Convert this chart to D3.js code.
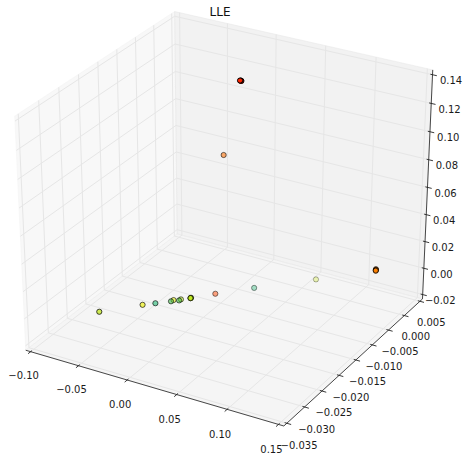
<!DOCTYPE html>
<html><head><meta charset="utf-8">
<script src="https://cdn.jsdelivr.net/npm/d3@7"></script>
<style>html,body{margin:0;padding:0;background:#fff}svg{display:block}</style>
</head><body><svg id="chart" width="469" height="456"></svg>
<script>
// ---------- data ----------
const title = "LLE";
const xLimits = [-0.10, 0.15];
const yLimits = [-0.035, 0.005];
const zLimits = [-0.02, 0.14];
const xTicks = [-0.10, -0.05, 0.00, 0.05, 0.10, 0.15];
const yTicks = [-0.035, -0.030, -0.025, -0.020, -0.015, -0.010, -0.005, 0.000, 0.005];
const zTicks = [-0.02, 0.00, 0.02, 0.04, 0.06, 0.08, 0.10, 0.12, 0.14];
const xTickLabels = ["−0.10", "−0.05", "0.00", "0.05", "0.10", "0.15"];
const yTickLabels = ["−0.035", "−0.030", "−0.025", "−0.020", "−0.015", "−0.010", "−0.005", "0.000", "0.005"];
const zTickLabels = ["−0.02", "0.00", "0.02", "0.04", "0.06", "0.08", "0.10", "0.12", "0.14"];

// embedded points (x, y, z) and their colour value
const xs = [-0.0553, -0.0290, -0.0207, -0.0106, -0.0098, -0.0052, -0.0048, 0.0014, 0.0017, 0.0012, 0.0015, 0.0163, 0.0408, 0.0809, 0.1475, 0.1472, 0.1477, 0.0096, 0.0099, 0.0093, -0.0076];
const ys = [-0.0288, -0.0240, -0.0227, -0.0211, -0.0206, -0.0203, -0.0199, -0.0189, -0.0190, -0.0187, -0.0189, -0.0160, -0.0117, -0.0050, -0.0072, -0.0071, -0.0073, -0.0070, -0.0069, -0.0071, -0.0070];
const zs = [0.0000, 0.0000, 0.0000, 0.0000, 0.0000, 0.0000, 0.0000, 0.0000, 0.0003, -0.0002, 0.0001, 0.0000, 0.0000, 0.0000, 0.0246, 0.0249, 0.0244, 0.1348, 0.1345, 0.1350, 0.0792];
const colorValues = [0.52, 0.42, 0.90, 0.72, 0.44, 0.70, 0.55, 0.53, 0.53, 0.53, 0.53, 0.08, 0.90, 0.50, 0.18, 0.18, 0.18, 0.02, 0.02, 0.02, 0.15];

// colormap stops
const cmapPositions = [0, 0.2, 0.4, 0.55, 0.7, 1];
const cmapColors = ["#ff1a00", "#ff8c00", "#f5f000", "#b4e61e", "#46b946", "#1ebe96"];

// ---------- projection (mplot3d style, elev 30, azim -60) ----------
const svg = d3.select("#chart");
const elev = 30, azim = -60, dist = 10;
const nx = d3.scaleLinear().domain(xLimits).range([0, 1]);
const ny = d3.scaleLinear().domain(yLimits).range([0, 1]);
const nz = d3.scaleLinear().domain(zLimits).range([0, 1]);
const px = d3.scaleLinear().domain([-0.095, 0.09]).range([-44.4, 484.7]);
const py = d3.scaleLinear().domain([-0.095, 0.09]).range([455.1, -19.45]);
const cmap = d3.scaleLinear().domain(cmapPositions).range(cmapColors).interpolate(d3.interpolateRgb);

const re = elev * Math.PI / 180, ra = azim * Math.PI / 180;
const R = [0.5, 0.5, 0.5];
const E = [R[0] + Math.cos(ra) * Math.cos(re) * dist, R[1] + Math.sin(ra) * Math.cos(re) * dist, R[2] + Math.sin(re) * dist];
const sub = (a, b) => a.map((v, i) => v - b[i]);
const dot = (a, b) => a[0]*b[0] + a[1]*b[1] + a[2]*b[2];
const cross = (a, b) => [a[1]*b[2] - a[2]*b[1], a[2]*b[0] - a[0]*b[2], a[0]*b[1] - a[1]*b[0]];
const unit = a => { const m = Math.hypot(a[0], a[1], a[2]); return a.map(v => v / m); };
const nvec = unit(sub(E, R));
const uvec = unit(cross([0, 0, 1], nvec));
const vvec = cross(nvec, uvec);
function proj(p) {
  const q = sub(p, E);
  const w = -dot(nvec, q);
  return { x: px(dot(uvec, q) / w), y: py(dot(vvec, q) / w), z: -10 / w };
}
const e = 1 / 48, lo = -e, hi = 1 + e, delta = 1 / 12;
const line = d3.line().x(d => d.x).y(d => d.y);
const path = pts => line(pts.map(proj));

// ---------- panes ----------
const panes = [
  { pts: [[lo,lo,lo],[lo,hi,lo],[lo,hi,hi],[lo,lo,hi]], c: "rgba(242,242,242,0.5)" },
  { pts: [[lo,hi,lo],[hi,hi,lo],[hi,hi,hi],[lo,hi,hi]], c: "rgba(230,230,230,0.5)" },
  { pts: [[lo,lo,lo],[hi,lo,lo],[hi,hi,lo],[lo,hi,lo]], c: "rgba(236,236,236,0.5)" }
];
svg.selectAll("path.pane").data(panes).enter().append("path")
  .attr("class", "pane")
  .attr("d", d => path(d.pts) + "Z")
  .attr("fill", d => d.c).attr("stroke", d => d.c).attr("stroke-width", 1);

// ---------- grid ----------
const gridG = svg.append("g").attr("fill", "none").attr("stroke", "#e6e6e6").attr("stroke-width", 1);
xTicks.forEach(t => { const a = nx(t); gridG.append("path").attr("d", path([[a,lo,lo],[a,hi,lo],[a,hi,hi]])); });
yTicks.forEach(t => { const b = ny(t); gridG.append("path").attr("d", path([[lo,b,hi],[lo,b,lo],[hi,b,lo]])); });
zTicks.forEach(t => { const c = nz(t); gridG.append("path").attr("d", path([[hi,hi,c],[lo,hi,c],[lo,lo,c]])); });

// ---------- axis lines, ticks, labels ----------
const axG = svg.append("g");
const L = 0.0478, fs = 10;
function drawAxis(ticks, labels, edge1, edge2, idx, tickdir, sign, moveDirs) {
  axG.append("path").attr("d", path([edge1, edge2])).attr("stroke", "#333").attr("stroke-width", 0.9).attr("fill", "none");
  ticks.forEach((t, i) => {
    const scale = [nx, ny, nz][idx];
    const p = edge1.slice(); p[idx] = scale(t);
    const p1 = p.slice(); p1[tickdir] = edge1[tickdir] + 0.1 * sign * delta;
    const p2 = p.slice(); p2[tickdir] = edge1[tickdir] - 0.2 * sign * delta;
    axG.append("path").attr("d", path([p1, p2])).attr("stroke", "#222").attr("stroke-width", 0.9);
    const lp = p.slice();
    moveDirs.forEach(k => { lp[k] += (lp[k] < 0.5 ? -L : L); });
    const a = proj(lp);
    axG.append("text").attr("x", a.x).attr("y", a.y + 8 + 0.36 * fs)
      .attr("text-anchor", "middle").attr("font-family", "DejaVu Sans, sans-serif")
      .attr("font-size", fs).attr("fill", "#1a1a1a").text(labels[i]);
  });
}
drawAxis(xTicks, xTickLabels, [lo,lo,lo], [hi,lo,lo], 0, 1, 1, [1, 2]);
drawAxis(yTicks, yTickLabels, [hi,lo,lo], [hi,hi,lo], 1, 0, -1, [0, 2]);
drawAxis(zTicks, zTickLabels, [hi,hi,lo], [hi,hi,hi], 2, 0, -1, [0, 1]);

// ---------- points with depth shading ----------
const pts = xs.map((x, i) => {
  const p = proj([nx(x), ny(ys[i]), nz(zs[i])]);
  return { x: p.x, y: p.y, depth: p.z, color: cmap(colorValues[i]) };
});
const dExt = d3.extent(pts, d => d.depth);
const shade = d3.scaleLinear().domain(dExt).range([1, 0.3]);
pts.sort((a, b) => b.depth - a.depth);
svg.append("g").selectAll("circle").data(pts).enter().append("circle")
  .attr("cx", d => d.x).attr("cy", d => d.y).attr("r", 2.6)
  .attr("fill", d => d.color).attr("fill-opacity", d => shade(d.depth))
  .attr("stroke", "#000").attr("stroke-opacity", d => shade(d.depth)).attr("stroke-width", 1);

// ---------- title ----------
svg.append("text").attr("x", 220).attr("y", 16).attr("text-anchor", "middle")
  .attr("font-family", "DejaVu Sans, sans-serif").attr("font-size", 12).attr("fill", "#111").text(title);
</script>
</body></html>
